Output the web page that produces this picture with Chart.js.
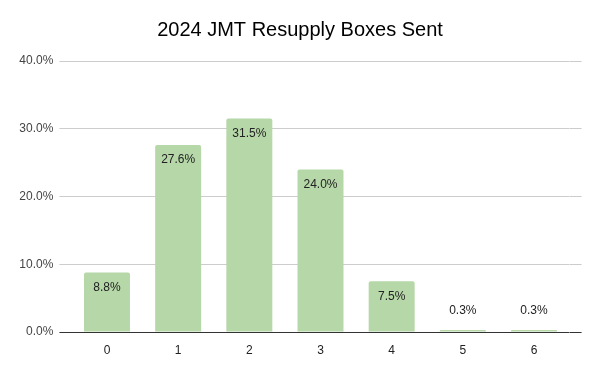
<!DOCTYPE html>
<html>
<head>
<meta charset="utf-8">
<script src="https://cdn.jsdelivr.net/npm/chart.js@4"></script>
<style>
  body { margin: 0; background: #fff; }
</style>
</head>
<body>
<canvas id="myChart" width="600" height="371"></canvas>
<script>
const boxCounts = ["0", "1", "2", "3", "4", "5", "6"];
const sharePercent = [8.8, 27.6, 31.5, 24.0, 7.5, 0.3, 0.3];
const yTicks = [0, 10, 20, 30, 40];

const FONT = "'Liberation Sans', Arial, sans-serif";

// value labels: inside the bar top, or above it when the bar is too short
const barLabels = {
    id: 'barLabels',
    afterDatasetsDraw(chart){
        const ctx = chart.ctx;
        const meta = chart.getDatasetMeta(0);
        ctx.save();
        ctx.font = "12px " + FONT;
        ctx.fillStyle = "#222222";
        ctx.textAlign = "center";
        ctx.textBaseline = "middle";
        meta.data.forEach((bar, i) => {
            const h = bar.base - bar.y;
            const txt = sharePercent[i].toFixed(1) + "%";
            const y = h > 22 ? bar.y + 15 : bar.y - 19;
            ctx.fillText(txt, bar.x, y);
        });
        ctx.restore();
    }
};

const gridColor = c => (c.tick && c.tick.value === 0) ? "#333333" : "#cccccc";

new Chart(document.getElementById('myChart'), {
    type: "bar",
    data: {
        labels: boxCounts,
        datasets: [{
            data: sharePercent,
            backgroundColor: "#b6d7a8",
            borderRadius: {topLeft: 2, topRight: 2},
            borderSkipped: "bottom",
            barPercentage: 1,
            categoryPercentage: 0.646
        }]
    },
    options: {
        responsive: false,
        animation: false,
        layout: {padding: 0},
        plugins: {
            legend: {display: false},
            tooltip: {enabled: false},
            title: {
                display: true,
                text: "2024 JMT Resupply Boxes Sent",
                color: "#000000",
                font: {family: FONT, size: 20, weight: "normal"},
                padding: {top: 18, bottom: 19}
            }
        },
        scales: {
            x: {
                grid: {display: false},
                border: {display: false},
                ticks: {color: "#222222", font: {family: FONT, size: 12}, padding: 3},
                afterFit: s => { s.height = 39; }
            },
            y: {
                min: 0,
                max: 40,
                afterBuildTicks: s => { s.ticks = yTicks.map(v => ({value: v})); },
                grid: {color: gridColor, tickLength: 12, drawTicks: true},
                border: {display: false},
                ticks: {
                    color: "#444444",
                    font: {family: FONT, size: 12},
                    padding: 6,
                    callback: v => v.toFixed(1) + "%"
                },
                afterFit: s => { s.width = 71.4; }
            },
            yRight: {
                position: "right",
                min: 0,
                max: 40,
                afterBuildTicks: s => { s.ticks = yTicks.map(v => ({value: v})); },
                grid: {color: gridColor, tickLength: 12, drawOnChartArea: false},
                border: {display: false},
                ticks: {display: false},
                afterFit: s => { s.width = 30.4; }
            }
        }
    },
    plugins: [barLabels]
});
</script>
</body>
</html>
